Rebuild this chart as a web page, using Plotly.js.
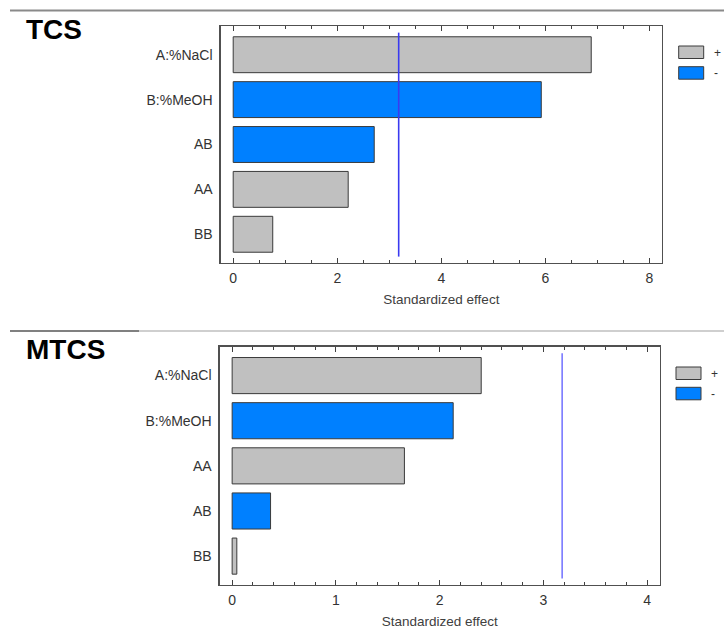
<!DOCTYPE html>
<html>
<head>
<meta charset="utf-8">
<script src="https://cdn.plot.ly/plotly-3.0.1.min.js"></script>
<style>
  html, body { margin: 0; padding: 0; background: #fff; }
  #chart { width: 724px; height: 643px; }
</style>
</head>
<body>
<div id="chart"></div>
<script>
// Standardized Pareto charts of effects for TCS and MTCS
const tcsTerms   = ["A:%NaCl", "B:%MeOH", "AB", "AA", "BB"];
const tcsEffects = [6.88, 5.92, 2.71, 2.21, 0.76];
const tcsSigns   = ["+", "-", "-", "+", "+"];

const mtcsTerms   = ["A:%NaCl", "B:%MeOH", "AA", "AB", "BB"];
const mtcsEffects = [2.40, 2.13, 1.66, 0.37, 0.045];
const mtcsSigns   = ["+", "-", "+", "-", "+"];

const critical = 3.18;           // t critical value (alpha = 0.05)
const tcsTicks  = [0, 2, 4, 6, 8];
const mtcsTicks = [0, 1, 2, 3, 4];
const panelTitles = ["TCS", "MTCS"];
const legendLabels = ["+", "-"];

const W = 724, H = 643;
const px = x => x / W;
const py = y => 1 - y / H;

const signColor = { "+": "#c0c0c0", "-": "#0080ff" };
const FONT = "Liberation Sans, Arial, sans-serif";

function barTrace(terms, effects, signs, xa, ya) {
  return {
    type: "bar",
    orientation: "h",
    x: effects,
    y: terms,
    xaxis: xa,
    yaxis: ya,
    marker: {
      color: signs.map(s => signColor[s]),
      line: { color: "#3a3a3a", width: 1 }
    },
    hoverinfo: "x+y",
    showlegend: false
  };
}

const data = [
  barTrace(tcsTerms, tcsEffects, tcsSigns, "x", "y"),
  barTrace(mtcsTerms, mtcsEffects, mtcsSigns, "x2", "y2")
];

function xAxis(domain, range, ticks, minorStep, anchor) {
  return {
    domain: domain,
    range: range,
    anchor: anchor,
    tickmode: "array",
    tickvals: ticks,
    ticktext: ticks.map(String),
    ticks: "inside",
    ticklen: 5,
    tickwidth: 1,
    tickcolor: "#404040",
    minor: { dtick: minorStep, ticks: "inside", ticklen: 3, tickwidth: 1, tickcolor: "#404040", showgrid: false },
    showline: true,
    mirror: "allticks",
    linecolor: "#505050",
    linewidth: 1.3,
    showgrid: false,
    zeroline: false,
    ticklabelstandoff: 2,
    tickfont: { family: FONT, size: 14, color: "#333" },
    title: { text: "Standardized effect", font: { family: FONT, size: 13.5, color: "#404040" }, standoff: 9 }
  };
}

function yAxis(domain, terms, anchor) {
  return {
    domain: domain,
    anchor: anchor,
    type: "category",
    categoryorder: "array",
    categoryarray: terms,
    range: [terms.length - 1 + 0.64, -0.64],
    ticks: "",
    showline: true,
    mirror: true,
    linecolor: "#505050",
    linewidth: 1.3,
    showgrid: false,
    zeroline: false,
    ticklabelstandoff: 4,
    tickfont: { family: FONT, size: 14, color: "#333" }
  };
}

const panels = [
  { titleY: 29, sepY: 10.5, legendX: 678.7, legendY: [46, 66.7] },
  { titleY: 349, sepY: 331, legendX: 676, legendY: [367, 387.3] }
];

const shapes = [];
const annotations = [];

// reference line at the critical value
[["x", "y", "#3a3af0"], ["x2", "y2", "#7a7aff"]].forEach(([xa, ya, col]) => {
  shapes.push({
    type: "line", xref: xa, yref: ya + " domain",
    x0: critical, x1: critical, y0: 0.027, y1: 0.972,
    line: { color: col, width: 1.6 }
  });
});

// separator rules above each panel
shapes.push({ type: "line", xref: "paper", yref: "paper",
  x0: px(10), x1: px(724), y0: py(panels[0].sepY), y1: py(panels[0].sepY),
  line: { color: "#8a8a8a", width: 2 } });
shapes.push({ type: "line", xref: "paper", yref: "paper",
  x0: px(139), x1: px(724), y0: py(panels[1].sepY), y1: py(panels[1].sepY),
  line: { color: "#a0a0a0", width: 1.2 } });
shapes.push({ type: "line", xref: "paper", yref: "paper",
  x0: px(10), x1: px(139), y0: py(panels[1].sepY), y1: py(panels[1].sepY),
  line: { color: "#808080", width: 2 } });

panels.forEach((p, i) => {
  annotations.push({
    xref: "paper", yref: "paper", x: px(24), y: py(p.titleY),
    xanchor: "left", yanchor: "middle", showarrow: false,
    text: "<b>" + panelTitles[i] + "</b>",
    font: { family: FONT, size: 28, color: "#000" }
  });
  // sign legend
  legendLabels.forEach((lab, j) => {
    const top = p.legendY[j];
    shapes.push({
      type: "rect", xref: "paper", yref: "paper",
      x0: px(p.legendX), x1: px(p.legendX + 25), y0: py(top + 12.5), y1: py(top),
      fillcolor: signColor[lab], line: { color: "#3a3a3a", width: 1 }
    });
    annotations.push({
      xref: "paper", yref: "paper", x: px(p.legendX + 33), y: py(top + 6.5),
      xanchor: "left", yanchor: "middle", showarrow: false,
      text: lab, font: { family: FONT, size: 12, color: "#333" }
    });
  });
});

const layout = {
  width: W,
  height: H,
  margin: { l: 0, r: 0, t: 0, b: 0 },
  paper_bgcolor: "#fff",
  plot_bgcolor: "#fff",
  bargap: 0.2,
  showlegend: false,
  xaxis:  xAxis([px(220.7), px(662)], [-0.24, 8.24], tcsTicks, 0.5, "y"),
  yaxis:  yAxis([py(263), py(26)], tcsTerms, "x"),
  xaxis2: xAxis([px(219.7), px(659.7)], [-0.12, 4.12], mtcsTicks, 0.2, "y2"),
  yaxis2: yAxis([py(585), py(346.7)], mtcsTerms, "x2"),
  shapes: shapes,
  annotations: annotations
};

Plotly.newPlot("chart", data, layout, { displayModeBar: false, staticPlot: true });
</script>
</body>
</html>
